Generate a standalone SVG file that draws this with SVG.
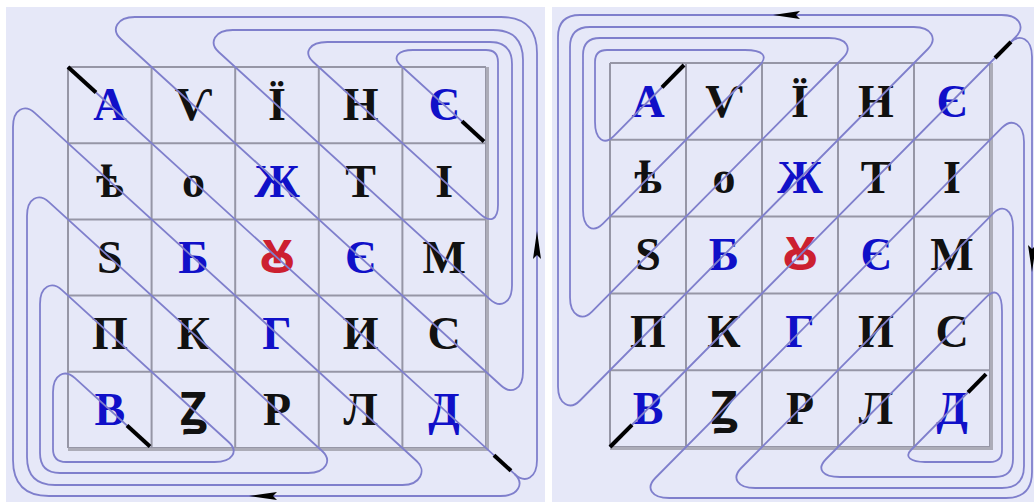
<svg xmlns="http://www.w3.org/2000/svg" width="1034" height="502" viewBox="0 0 1034 502">
<style>
.bg{fill:#e6e8f8}
.grid{fill:none;stroke:#9696a6;stroke-width:2}
.edge{fill:none;stroke:#acacb8;stroke-width:3}
.p{fill:none;stroke:#7f7fcc;stroke-width:1.8;stroke-linejoin:round}
.mk{stroke:#000;stroke-width:4;stroke-linecap:butt}
.ah{fill:#000}
text{font-family:"Liberation Serif","DejaVu Serif","Noto Sans",serif;font-weight:bold;font-size:46px;text-anchor:middle}
.k{fill:#111}
.b{fill:#1010c8}
.r{fill:#cc2030}
</style>
<rect class="bg" x="6" y="7" width="539" height="495"/>
<rect class="bg" x="552" y="7" width="482" height="495"/>

<g id="grid-left">
<path class="grid" d="M68 67V448M151.6 67V448M235.2 67V448M318.8 67V448M402.4 67V448M486 67V448M68 67H486M68 143.2H486M68 219.4H486M68 295.6H486M68 371.8H486M68 448H486"/>
<path class="edge" d="M68 449.5H487.5V67"/>
</g>
<g id="grid-right">
<path class="grid" d="M610 63V447M686 63V447M762 63V447M838 63V447M914 63V447M990 63V447M610 63H990M610 139.8H990M610 216.6H990M610 293.4H990M610 370.2H990M610 447H990"/>
<path class="edge" d="M610 448.5H991.5V63"/>
</g>

<g id="letters-left">
<g id="L-r1c1"><text class="b" x="109.8" y="120.3">А</text></g>
<g id="L-r1c2"><text class="k" x="193.4" y="120.3">Ѵ</text></g>
<g id="L-r1c3"><text class="k" x="277" y="120.3">Ї</text></g>
<g id="L-r1c4"><text class="k" x="360.6" y="120.3">Н</text></g>
<g id="L-r1c5"><text class="b" x="444.2" y="120.3">Є</text></g>
<g id="L-r2c1"><text class="k" x="109.8" y="196.5">ѣ</text></g>
<g id="L-r2c2"><text class="k" x="193.4" y="196.5">о</text></g>
<g id="L-r2c3"><text class="b" x="277" y="196.5">Ж</text></g>
<g id="L-r2c4"><text class="k" x="360.6" y="196.5">Т</text></g>
<g id="L-r2c5"><text class="k" x="444.2" y="196.5">І</text></g>
<g id="L-r3c1"><text class="k" x="109.8" y="272.7">Ѕ</text></g>
<g id="L-r3c2"><text class="b" x="193.4" y="272.7">Б</text></g>
<g id="L-r3c3"><text class="r" x="277" y="272.7">Ꙋ</text></g>
<g id="L-r3c4"><text class="b" x="360.6" y="272.7">Є</text></g>
<g id="L-r3c5"><text class="k" x="444.2" y="272.7">М</text></g>
<g id="L-r4c1"><text class="k" x="109.8" y="348.9">П</text></g>
<g id="L-r4c2"><text class="k" x="193.4" y="348.9">К</text></g>
<g id="L-r4c3"><text class="b" x="277" y="348.9">Г</text></g>
<g id="L-r4c4"><text class="k" x="360.6" y="348.9">И</text></g>
<g id="L-r4c5"><text class="k" x="444.2" y="348.9">С</text></g>
<g id="L-r5c1"><text class="b" x="109.8" y="425.1">В</text></g>
<g id="L-r5c2"><text class="k" x="193.4" y="425.1">Ꙁ</text></g>
<g id="L-r5c3"><text class="k" x="277" y="425.1">Р</text></g>
<g id="L-r5c4"><text class="k" x="360.6" y="425.1">Л</text></g>
<g id="L-r5c5"><text class="b" x="444.2" y="425.1">Д</text></g>
</g>

<g id="letters-right">
<g id="R-r1c1"><text class="b" x="648" y="116.6">А</text></g>
<g id="R-r1c2"><text class="k" x="724" y="116.6">Ѵ</text></g>
<g id="R-r1c3"><text class="k" x="800" y="116.6">Ї</text></g>
<g id="R-r1c4"><text class="k" x="876" y="116.6">Н</text></g>
<g id="R-r1c5"><text class="b" x="952" y="116.6">Є</text></g>
<g id="R-r2c1"><text class="k" x="648" y="193.4">ѣ</text></g>
<g id="R-r2c2"><text class="k" x="724" y="193.4">о</text></g>
<g id="R-r2c3"><text class="b" x="800" y="193.4">Ж</text></g>
<g id="R-r2c4"><text class="k" x="876" y="193.4">Т</text></g>
<g id="R-r2c5"><text class="k" x="952" y="193.4">І</text></g>
<g id="R-r3c1"><text class="k" x="648" y="270.2">Ѕ</text></g>
<g id="R-r3c2"><text class="b" x="724" y="270.2">Б</text></g>
<g id="R-r3c3"><text class="r" x="800" y="270.2">Ꙋ</text></g>
<g id="R-r3c4"><text class="b" x="876" y="270.2">Є</text></g>
<g id="R-r3c5"><text class="k" x="952" y="270.2">М</text></g>
<g id="R-r4c1"><text class="k" x="648" y="347">П</text></g>
<g id="R-r4c2"><text class="k" x="724" y="347">К</text></g>
<g id="R-r4c3"><text class="b" x="800" y="347">Г</text></g>
<g id="R-r4c4"><text class="k" x="876" y="347">И</text></g>
<g id="R-r4c5"><text class="k" x="952" y="347">С</text></g>
<g id="R-r5c1"><text class="b" x="648" y="423.8">В</text></g>
<g id="R-r5c2"><text class="k" x="724" y="423.8">Ꙁ</text></g>
<g id="R-r5c3"><text class="k" x="800" y="423.8">Р</text></g>
<g id="R-r5c4"><text class="k" x="876" y="423.8">Л</text></g>
<g id="R-r5c5"><text class="b" x="952" y="423.8">Д</text></g>
</g>

<g id="connectors">
<path class="p" d="M68 67L515 474.4C525.3 483.8 537 478 537 460L537 53Q537 17 501 17L134.9 17C116.9 17 110.6 29.6 120.9 39L501 385.5C511.3 394.9 523 389.5 523 371.5L523 60Q523 30 493 30L232.7 30C214.7 30 208.4 42.6 218.7 52L490 299.3C500.3 308.7 512 303.3 512 285.3L512 64Q512 42 490 42L327.3 42C309.3 42 303 52.6 313.3 62L480 213.9C490.3 223.3 498 220 498 205L498 62Q498 50 486 50L413 50C399 50 391 56.6 401.3 66L484 141.4"/>
<path class="p" d="M514.5 474C524.8 483.4 518.5 496 500.5 496L49 496Q13 496 13 460L13 127.1C13 109.1 24.7 103.7 35 113.1L416.6 461C426.9 470.4 420.6 485 402.6 485L55 485Q27 485 27 457L27 216.1C27 198.1 38.7 192.7 49 202.1L322.1 451C332.4 460.4 326.1 473 308.1 473L60 473Q40 473 40 453L40 304.1C40 286.1 51.7 280.7 62 290.1L228.6 442C238.9 451.4 232.6 462 214.6 462L66 462Q53 462 53 449L53 392.2C53 374.2 64.7 368.8 75 378.2L150 446.5"/>
<path class="p" d="M610 447L1015.7 37C1025.5 27 1019.7 15 1001.7 15L580 15Q558 15 558 37L558 386.5C558 404.5 570.2 410.5 580 400.5L927.9 49C937.7 39 931.9 27 913.9 27L590 27Q570 27 570 47L570 297.6C570 315.6 582.2 321.6 592 311.6L842.9 58C852.7 48 846.9 38 828.9 38L600 38Q583 38 583 55L583 209.7C583 227.7 592.8 233.7 603 223.7L759 66C768.8 56 763 50 745 50L607 50Q595 50 595 62L595 121.8C595 139.8 604.2 145.8 614 135.8L684 65"/>
<path class="p" d="M1010 42.8C1019.8 32.8 1032 38.8 1032 56.8L1032 472Q1032 498 1006 498L669.3 498C651.3 498 645.5 488 655.3 478L1002 127.7C1011.8 117.7 1024 123.7 1024 141.7L1024 466Q1024 488 1002 488L755.2 488C737.2 488 731.4 478 741.2 468L993 213.6C1002.8 203.6 1013 209.6 1013 227.6L1013 459Q1013 477 995 477L840.1 477C822.1 477 816.3 469 826.1 459L986 297.4C995.8 287.4 1002 293.4 1002 311.4L1002 450Q1002 462 990 462L925 462C911 462 904 457.1 911 450L986 374.2"/>
<line class="mk" x1="68" y1="67" x2="96" y2="92.5"/>
<line class="mk" x1="462" y1="121.3" x2="484" y2="141.4"/>
<line class="mk" x1="494" y1="455.3" x2="511" y2="470.8"/>
<line class="mk" x1="127" y1="425.6" x2="150" y2="446.5"/>
<line class="mk" x1="610" y1="447" x2="632" y2="424.8"/>
<line class="mk" x1="662" y1="87.3" x2="684" y2="65"/>
<line class="mk" x1="968" y1="392.4" x2="986" y2="374.2"/>
<line class="mk" x1="995" y1="58" x2="1011" y2="41.8"/>
<polygon class="ah" points="249,496 277,492 273,496 277,500"/>
<polygon class="ah" points="537,231 533,259 537,255 541,259"/>
<polygon class="ah" points="773,15 800,11 796,15 800,19"/>
<polygon class="ah" points="1032,272 1028,245 1032,249 1036,245"/>
</g>
</svg>
